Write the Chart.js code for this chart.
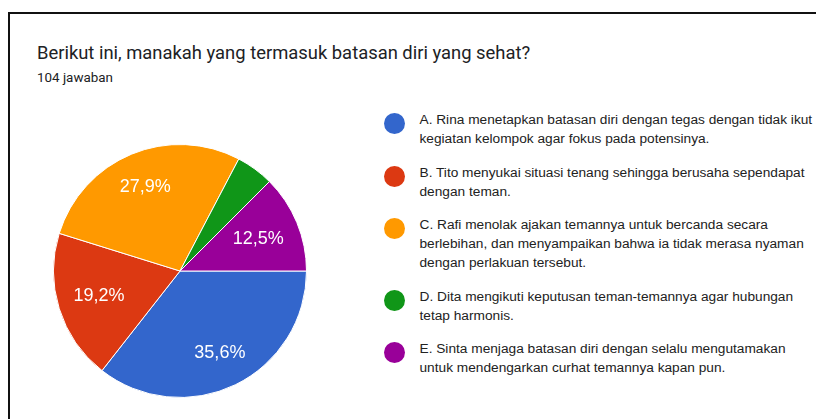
<!DOCTYPE html>
<html>
<head>
<meta charset="utf-8">
<script src="https://cdn.jsdelivr.net/npm/chart.js@4"></script>
<style>
  body { margin: 0; background: #fff; width: 816px; height: 419px; overflow: hidden; position: relative; }
  .card { position: absolute; left: 8px; top: 12px; width: 900px; height: 500px; border-top: 2px solid #111; border-left: 2px solid #111; }
  .title { position: absolute; left: 37px; top: 43px; font: 18.4px Roboto, sans-serif; line-height: 20px; color: #202124; white-space: nowrap; }
  .sub { position: absolute; left: 37px; top: 70px; font: 13.4px Roboto, sans-serif; line-height: 16px; color: #202124; }
  .pie { position: absolute; left: 53px; top: 144px; width: 254px; height: 254px; }
  #legend { position: absolute; left: 384px; top: 110px; font: 13.7px "Liberation Sans", Arial, sans-serif; line-height: 19px; color: #222; }
  .item { display: flex; margin-bottom: 14.5px; }
  .dot { width: 21px; height: 21px; border-radius: 50%; margin-top: 3px; flex: none; }
  .txt { margin-left: 14.5px; white-space: nowrap; }
</style>
</head>
<body>
<div class="card"></div>
<div class="title">Berikut ini, manakah yang termasuk batasan diri yang sehat?</div>
<div class="sub">104 jawaban</div>
<div class="pie"><canvas id="pieChart"></canvas></div>
<div id="legend"></div>
<script>
const labels = [
  ['A. Rina menetapkan batasan diri dengan tegas dengan tidak ikut', 'kegiatan kelompok agar fokus pada potensinya.'],
  ['B. Tito menyukai situasi tenang sehingga berusaha sependapat', 'dengan teman.'],
  ['C. Rafi menolak ajakan temannya untuk bercanda secara', 'berlebihan, dan menyampaikan bahwa ia tidak merasa nyaman', 'dengan perlakuan tersebut.'],
  ['D. Dita mengikuti keputusan teman-temannya agar hubungan', 'tetap harmonis.'],
  ['E. Sinta menjaga batasan diri dengan selalu mengutamakan', 'untuk mendengarkan curhat temannya kapan pun.']
];
const counts = [37, 20, 29, 5, 13];
const colors = ['#3366cc', '#dc3912', '#ff9900', '#109618', '#990099'];

// percentage text inside the slices, like google forms
const sliceLabels = {
  id: 'sliceLabels',
  afterDatasetsDraw(chart) {
    const ctx = chart.ctx;
    const data = chart.data.datasets[0].data;
    const total = data.reduce((a, b) => a + b, 0);
    ctx.save();
    ctx.fillStyle = '#fff';
    ctx.font = '18px "Liberation Sans", Arial, sans-serif';
    ctx.textAlign = 'center';
    ctx.textBaseline = 'middle';
    chart.getDatasetMeta(0).data.forEach((arc, i) => {
      const pct = data[i] / total * 100;
      if (pct < 5) return;
      const p = arc.getProps(['x', 'y', 'startAngle', 'endAngle', 'outerRadius'], true);
      const mid = (p.startAngle + p.endAngle) / 2;
      // narrower slices pull the label a bit inward
      const r = p.outerRadius * (pct > 25 ? 0.72 : 0.67);
      ctx.fillText(pct.toFixed(1).replace('.', ',') + '%', p.x + Math.cos(mid) * r, p.y + Math.sin(mid) * r);
    });
    ctx.restore();
  }
};

const chart = new Chart(document.getElementById('pieChart'), {
  type: 'pie',
  data: {
    labels: labels,
    datasets: [{
      data: counts,
      backgroundColor: colors,
      borderColor: '#fff',
      borderWidth: 1,
      hoverOffset: 0
    }]
  },
  options: {
    responsive: true,
    maintainAspectRatio: false,
    animation: false,
    rotation: 90,
    layout: { padding: 0 },
    plugins: {
      legend: { display: false },
      tooltip: { enabled: false }
    }
  },
  plugins: [sliceLabels]
});

const legend = document.getElementById('legend');
labels.forEach((lines, i) => {
  const item = document.createElement('div');
  item.className = 'item';
  const dot = document.createElement('div');
  dot.className = 'dot';
  dot.style.background = colors[i];
  const txt = document.createElement('div');
  txt.className = 'txt';
  txt.innerHTML = lines.join('<br>');
  item.appendChild(dot);
  item.appendChild(txt);
  legend.appendChild(item);
});
</script>
</body>
</html>
